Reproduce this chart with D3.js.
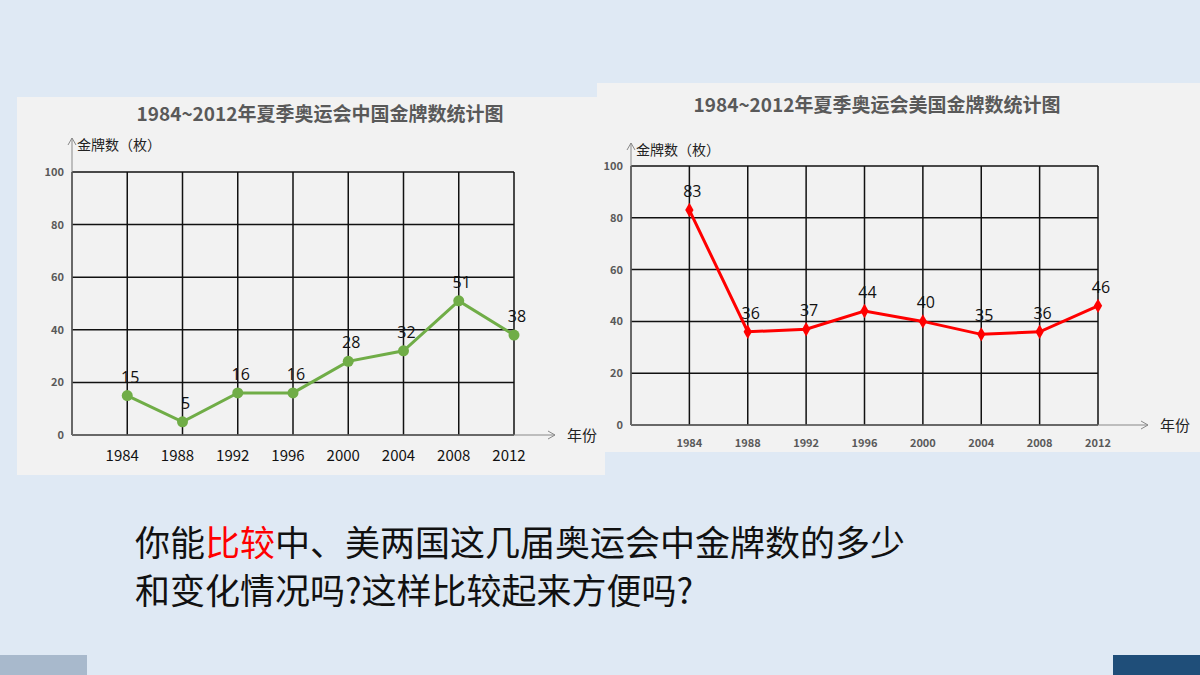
<!DOCTYPE html><html><head><meta charset="utf-8">
<script src="https://cdn.jsdelivr.net/npm/d3@7"></script>
<style>body{margin:0;background:#dfe9f4;}svg{display:block}</style></head><body>
<svg id="c" width="1200" height="675"></svg>
<script>
const years=["1984","1988","1992","1996","2000","2004","2008","2012"];
const china=[15,5,16,16,28,32,51,38];
const usa=[83,36,37,44,40,35,36,46];
const yTicks=[0,20,40,60,80,100];
const svg=d3.select("#c");
const F="'Noto Sans CJK SC','Noto Sans',sans-serif";
svg.append("rect").attr("width",1200).attr("height",675).attr("fill","#dfe9f4");
svg.append("rect").attr("x",0).attr("y",655).attr("width",87).attr("height",20).attr("fill","#a8b9cc");
svg.append("rect").attr("x",1113).attr("y",655).attr("width",87).attr("height",20).attr("fill","#1f4e79");
function chart(o){
  const g=svg.append("g");
  g.append("rect").attr("x",o.px).attr("y",o.py).attr("width",o.pw).attr("height",o.ph).attr("fill","#f2f2f2");
  g.append("text").attr("x",o.tx).attr("y",o.ty).attr("text-anchor","middle").attr("font-family",F).attr("font-weight","bold").attr("font-size",19).attr("fill","#595959").text(o.title);
  const x=d3.scaleLinear().domain([-1,7]).range([o.x0,o.x1]);
  const y=d3.scaleLinear().domain([0,100]).range([o.y0,o.y1]);
  for(let i=-1;i<=7;i++) g.append("line").attr("x1",x(i)).attr("x2",x(i)).attr("y1",o.y0).attr("y2",o.y1).attr("stroke","#111").attr("stroke-width",1.5);
  yTicks.forEach(t=>{g.append("line").attr("x1",o.x0).attr("x2",o.x1).attr("y1",y(t)).attr("y2",y(t)).attr("stroke","#111").attr("stroke-width",1.5);
    g.append("text").attr("x",o.x0-8).attr("y",y(t)+4).attr("text-anchor","end").attr("font-family",F).attr("font-weight","bold").attr("font-size",11).attr("fill","#595959").text(t);});
  g.append("line").attr("x1",o.x0).attr("x2",o.x0).attr("y1",o.y0).attr("y2",o.ay).attr("stroke","#888");
  g.append("path").attr("d",`M${o.x0-4},${o.ay+7}L${o.x0},${o.ay}L${o.x0+4},${o.ay+7}`).attr("fill","none").attr("stroke","#888");
  g.append("line").attr("x1",o.x0).attr("x2",o.ax).attr("y1",o.y0).attr("y2",o.y0).attr("stroke","#888");
  g.append("path").attr("d",`M${o.ax-7},${o.y0-4}L${o.ax},${o.y0}L${o.ax-7},${o.y0+4}`).attr("fill","none").attr("stroke","#888");
  g.append("text").attr("x",o.ax+12).attr("y",o.y0+6).attr("font-family",F).attr("font-size",15).attr("fill","#222").text("年份");
  g.append("text").attr("x",o.x0+5).attr("y",o.ay+12).attr("font-family",F).attr("font-size",14).attr("fill","#222").text("金牌数（枚）");
  years.forEach((yr,i)=>g.append("text").attr("x",x(i)+o.yrdx).attr("y",o.yry).attr("text-anchor","middle").attr("font-family",F).attr("font-weight",o.yrbold).attr("font-size",o.yrfs).attr("fill",o.yrcol).text(yr));
  const line=d3.line().x((d,i)=>x(i)).y(d=>y(d));
  g.append("path").attr("d",line(o.data)).attr("fill","none").attr("stroke",o.col).attr("stroke-width",3);
  o.data.forEach((d,i)=>{
    if(o.diamond) g.append("path").attr("d",d3.symbol(d3.symbolDiamond,60)()).attr("transform",`translate(${x(i)},${y(d)})`).attr("fill",o.col);
    else g.append("circle").attr("cx",x(i)).attr("cy",y(d)).attr("r",5.5).attr("fill",o.col);
    g.append("text").attr("x",x(i)+3).attr("y",y(d)-13).attr("text-anchor","middle").attr("font-family","'Open Sans',sans-serif").attr("font-size",16).attr("fill","#111").text(d);
  });
}
chart({px:17,py:97,pw:588,ph:378,tx:320,ty:121,title:"1984~2012年夏季奥运会中国金牌数统计图",x0:72,x1:514,y0:435,y1:172,ax:555,ay:138,yrdx:-5,yry:461,yrfs:15,yrbold:"normal",yrcol:"#111",data:china,col:"#70ad47",diamond:false});
chart({px:597,py:83,pw:603,ph:369,tx:877,ty:112,title:"1984~2012年夏季奥运会美国金牌数统计图",x0:631,x1:1098,y0:425,y1:166,ax:1148,ay:143,yrdx:0,yry:447,yrfs:11,yrbold:"bold",yrcol:"#595959",data:usa,col:"#ff0000",diamond:true});
const t1=svg.append("text").attr("x",135).attr("y",556).attr("font-family",F).attr("font-size",35).attr("fill","#111");
t1.append("tspan").text("你能");
t1.append("tspan").attr("fill","#ff0000").text("比较");
t1.append("tspan").text("中、美两国这几届奥运会中金牌数的多少");
svg.append("text").attr("x",135).attr("y",604).attr("font-family",F).attr("font-size",35).attr("fill","#111").text("和变化情况吗?这样比较起来方便吗?");
</script></body></html>
